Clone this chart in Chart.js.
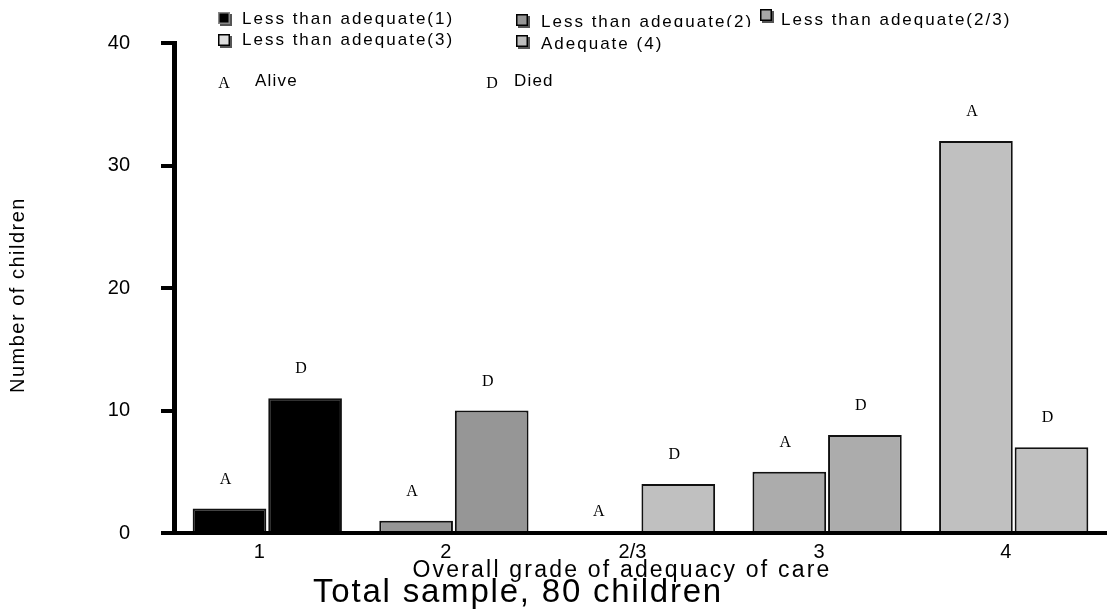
<!DOCTYPE html>
<html>
<head>
<meta charset="utf-8">
<script src="https://cdn.jsdelivr.net/npm/chart.js@4.4.0/dist/chart.umd.min.js"></script>
<style>
html,body{margin:0;padding:0;background:#fff;overflow:hidden}
canvas{display:block}
</style>
</head>
<body>
<canvas id="c" width="1107" height="614"></canvas>
<script>
// ---- data ----
const categories = ['1', '2', '2/3', '3', '4'];
const aliveCounts = [2, 1, 0, 5, 32];
const diedCounts = [11, 10, 4, 8, 7];
const barColors = ['#000000', '#969696', '#c0c0c0', '#acacac', '#c0c0c0'];
const yTicks = [0, 10, 20, 30, 40];
const legendLabels = ['Less than adequate(1)', 'Less than adequate(2)', 'Less than adequate(2/3)', 'Less than adequate(3)', 'Adequate (4)'];
const legendColors = ['#000000', '#969696', '#a6a6a6', '#dedede', '#bdbdbd'];
const statusLetters = ['A', 'D'];
const statusLabels = ['Alive', 'Died'];
const yTitle = 'Number of children';
const xTitle = 'Overall grade of adequacy of care';
const chartTitle = 'Total sample, 80 children';

const SANS = '"Liberation Sans", Arial, Helvetica, sans-serif';
const SERIF = '"Liberation Serif", "Times New Roman", serif';

function spacedText(ctx, text, x, y, spacing) {
  ctx.letterSpacing = spacing + 'px';
  ctx.fillText(text, x, y);
  ctx.letterSpacing = '0px';
}

const decorations = {
  id: 'decorations',
  afterDatasetsDraw(chart) {
    const ctx = chart.ctx;
    ctx.save();
    ctx.fillStyle = '#000';
    ctx.textAlign = 'center';
    ctx.textBaseline = 'middle';
    ctx.font = '16px ' + SERIF;
    [0, 1].forEach(di => {
      const meta = chart.getDatasetMeta(di);
      const vals = chart.data.datasets[di].data;
      meta.data.forEach((bar, i) => {
        const off = vals[i] === 0 ? 21 : 29;
        ctx.fillText(statusLetters[di], bar.x - 4, bar.y - off);
      });
    });
    ctx.restore();
  },
  afterDraw(chart) {
    const ctx = chart.ctx;
    ctx.save();
    ctx.fillStyle = '#000';
    // legend
    const pos = [
      {sx: 218, sy: 12, tx: 242, ty: 19, clip: null},
      {sx: 516, sy: 14, tx: 541, ty: 22, clip: 27},
      {sx: 760, sy: 9, tx: 781, ty: 20, clip: null},
      {sx: 218, sy: 34, tx: 242, ty: 40, clip: null},
      {sx: 516, sy: 35, tx: 541, ty: 44, clip: null}
    ];
    legendLabels.forEach((lab, i) => {
      const p = pos[i];
      ctx.fillStyle = '#555';
      ctx.fillRect(p.sx + 2, p.sy + 2, 12, 12);
      ctx.fillStyle = legendColors[i];
      ctx.fillRect(p.sx, p.sy, 12, 12);
      ctx.strokeStyle = i === 0 ? '#888' : '#000';
      ctx.lineWidth = 1.5;
      ctx.strokeRect(p.sx + 0.75, p.sy + 0.75, 10.5, 10.5);
      ctx.fillStyle = '#000';
      ctx.font = '17px ' + SANS;
      ctx.textAlign = 'left';
      ctx.textBaseline = 'middle';
      ctx.save();
      if (p.clip) { ctx.beginPath(); ctx.rect(p.tx - 2, 0, 400, p.clip); ctx.clip(); }
      spacedText(ctx, lab, p.tx, p.ty, 2.0);
      ctx.restore();
    });
    // status key
    const keyPos = [{lx: 224, tx: 255}, {lx: 492, tx: 514}];
    statusLetters.forEach((l, i) => {
      ctx.font = '16px ' + SERIF;
      ctx.textAlign = 'center';
      ctx.textBaseline = 'middle';
      ctx.fillText(l, keyPos[i].lx, 84);
      ctx.font = '17px ' + SANS;
      ctx.textAlign = 'left';
      spacedText(ctx, statusLabels[i], keyPos[i].tx, 81, 1.2);
    });
    // y title
    ctx.save();
    ctx.translate(18, 295);
    ctx.rotate(-Math.PI / 2);
    ctx.font = '20px ' + SANS;
    ctx.textAlign = 'center';
    ctx.textBaseline = 'middle';
    spacedText(ctx, yTitle, 0, 0, 1.5);
    ctx.restore();
    // x title
    ctx.font = '23px ' + SANS;
    ctx.textAlign = 'center';
    ctx.textBaseline = 'middle';
    spacedText(ctx, xTitle, 622, 571, 2.2);
    // main title
    ctx.font = '33px ' + SANS;
    spacedText(ctx, chartTitle, 518, 593, 1.8);
    ctx.restore();
  }
};

const barStyle = {
  borderColor: '#111111',
  borderWidth: 2,
  borderSkipped: 'start',
  categoryPercentage: 0.81,
  barPercentage: 0.975
};

new Chart(document.getElementById('c'), {
  type: 'bar',
  data: {
    labels: categories,
    datasets: [
      Object.assign({label: statusLabels[0], data: aliveCounts, backgroundColor: barColors}, barStyle),
      Object.assign({label: statusLabels[1], data: diedCounts, backgroundColor: barColors}, barStyle)
    ]
  },
  options: {
    responsive: false,
    animation: false,
    layout: {padding: {left: 0, top: 37, right: -7, bottom: 0}},
    plugins: {legend: {display: false}, tooltip: {enabled: false}, title: {display: false}},
    scales: {
      x: {
        grid: {display: true, drawOnChartArea: false, drawTicks: false, color: 'rgba(0,0,0,0)'},
        border: {display: true, color: '#000', width: 4},
        ticks: {font: {family: SANS, size: 20}, color: '#000', padding: 7, labelOffset: -8, maxRotation: 0, autoSkip: false},
        afterFit(s) { s.height = 81; }
      },
      y: {
        min: 0, max: 40,
        afterBuildTicks(s) { s.ticks = yTicks.map(v => ({value: v})); },
        grid: {drawOnChartArea: false, drawTicks: true, tickLength: 13, color: '#000', lineWidth: 4},
        border: {display: true, color: '#000', width: 5},
        ticks: {font: {family: SANS, size: 20}, color: '#000', padding: 31},
        afterFit(s) { s.width = 174; }
      }
    }
  },
  plugins: [decorations]
});
</script>
</body>
</html>
